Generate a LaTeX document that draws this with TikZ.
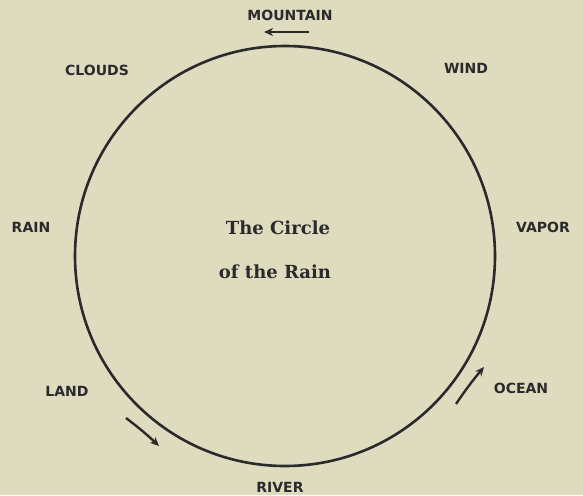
\documentclass[tikz,border=0pt]{standalone}
\usepackage{fontspec}
\usetikzlibrary{arrows.meta}
\newfontfamily\labfont{DejaVu Sans}
\newfontfamily\titfont{DejaVu Serif}
\definecolor{paper}{HTML}{DEDBBE}
\definecolor{ink}{HTML}{2A2A2C}
\begin{document}
\begin{tikzpicture}[x=1pt,y=-1pt,
  lab/.style={text=ink,font=\labfont\bfseries\fontsize{14}{16}\selectfont,inner sep=0pt},
  tit/.style={text=ink,font=\titfont\bfseries\fontsize{18}{20}\selectfont,inner sep=0pt},
  arr/.style={draw=ink,line width=2.4pt,-{Stealth[length=9pt,width=8pt]}}]
\fill[paper] (0,0) rectangle (583,495);
\useasboundingbox (0,0) rectangle (583,495);
\node[draw=ink,line width=2.6pt,circle,minimum size=420pt,inner sep=0pt] (c) at (285,256) {};
\node[lab] (mountain) at (290,15) {MOUNTAIN};
\node[lab] (clouds) at (97,70) {CLOUDS};
\node[lab] (wind) at (466,68) {WIND};
\node[lab] (rain) at (31,227) {RAIN};
\node[lab] (vapor) at (543,227) {VAPOR};
\node[lab] (land) at (67,391) {LAND};
\node[lab] (ocean) at (521,388) {OCEAN};
\node[lab] (river) at (280,487) {RIVER};
\node[tit] (t1) at (278,228) {The Circle};
\node[tit] (t2) at (275,272) {of the Rain};
\coordinate (a1s) at (309,32); \coordinate (a1e) at (264,32);
\coordinate (a2s) at (126,418); \coordinate (a2e) at (159,446);
\coordinate (a3s) at (456,404); \coordinate (a3e) at (484,367);
\draw[arr] (a1s) -- (a1e);
\draw[arr] (a2s) to[bend left=3] (a2e);
\draw[arr] (a3s) to[bend left=3] (a3e);
\end{tikzpicture}
\end{document}
